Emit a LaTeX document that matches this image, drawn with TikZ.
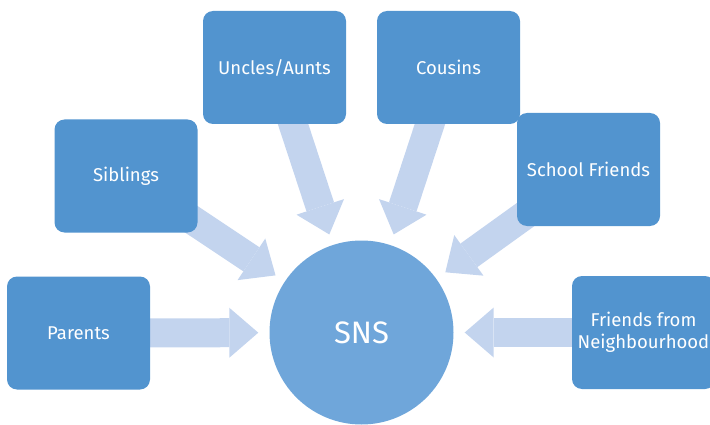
\documentclass[tikz,border=0pt]{standalone}
\usepackage{fontspec}
\setmainfont{Fira Sans}
\usetikzlibrary{arrows.meta,backgrounds}
\definecolor{boxblue}{HTML}{5294CF}
\definecolor{snsblue}{HTML}{6FA6DA}
\definecolor{arrowblue}{HTML}{C3D4EE}

\begin{document}
\begin{tikzpicture}[x=1pt,y=1pt,
    famb/.style={fill=boxblue,rounded corners=10pt,minimum width=143pt,minimum height=113pt,
      inner sep=0pt,text=white,align=center,font=\fontsize{18.5}{22}\selectfont},
    feed/.style={draw=arrowblue,line width=29pt,
      -{Triangle[width=50pt,length=29pt,line width=0pt]},shorten >=11pt,shorten <=-20pt}]
          \clip (0,0) rectangle (710,424);
          \node[circle,fill=snsblue,minimum size=184pt,inner sep=0pt,text=white,
            font=\fontsize{31}{38}\selectfont] (sns) at (361.5,91.5) {SNS};
          \node[famb] (parents) at (78.5,91) {Parents};
          \node[famb] (siblings) at (126,248) {Siblings};
          \node[famb] (uncles) at (274.5,356.5) {Uncles/Aunts};
          \node[famb] (cousins) at (448.5,356.5) {Cousins};
          \node[famb] (school) at (588.5,254.5) {School Friends};
          \node[famb] (neighbours) at (643.5,91.5) {Friends from\\Neighbourhood};
          \begin{scope}[on background layer]
             \draw[feed] (parents) -- (sns);
             \draw[feed] (siblings) -- (sns);
             \draw[feed] (uncles) -- (sns);
             \draw[feed] (cousins) -- (sns);
             \draw[feed] (school) -- (sns);
             \draw[feed] (neighbours) -- (sns);
          \end{scope}
\end{tikzpicture}
\end{document}
